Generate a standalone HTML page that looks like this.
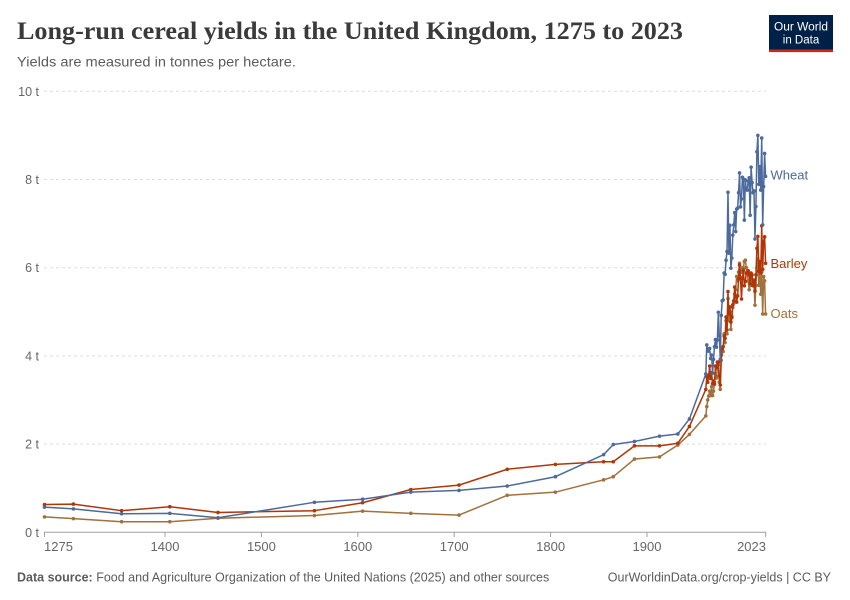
<!DOCTYPE html>
<html>
<head>
<meta charset="utf-8">
<style>
  html, body { margin: 0; padding: 0; background: #fff; }
  svg { display: block; }
  .sans { font-family: "Liberation Sans", "DejaVu Sans", sans-serif; }
  .serif { font-family: "Liberation Serif", "DejaVu Serif", serif; }
</style>
</head>
<body>
<svg id="chart" width="850" height="600" viewBox="0 0 850 600" xmlns="http://www.w3.org/2000/svg">
  <rect x="0" y="0" width="850" height="600" fill="#ffffff"/>

  <!-- Title -->
  <text class="serif" x="17" y="39" font-size="25" font-weight="bold" fill="#3a3a3a" textLength="666" lengthAdjust="spacingAndGlyphs">Long-run cereal yields in the United Kingdom, 1275 to 2023</text>
  <text class="sans" x="17" y="66.5" font-size="14" fill="#5b5b5b" textLength="279" lengthAdjust="spacingAndGlyphs">Yields are measured in tonnes per hectare.</text>

  <!-- Logo -->
  <rect x="769" y="15" width="64" height="34.5" fill="#002147"/>
  <rect x="769" y="49.5" width="64" height="2.6" fill="#ce261e"/>
  <text class="sans" x="801" y="30.5" font-size="11.5" fill="#ffffff" text-anchor="middle" textLength="54" lengthAdjust="spacingAndGlyphs">Our World</text>
  <text class="sans" x="801" y="43.5" font-size="11.5" fill="#ffffff" text-anchor="middle">in Data</text>

  <!-- Gridlines -->
  <g stroke="#dddddd" stroke-width="1" stroke-dasharray="3,3">
    <line x1="44" y1="91.3" x2="766" y2="91.3"/>
    <line x1="44" y1="179.5" x2="766" y2="179.5"/>
    <line x1="44" y1="267.7" x2="766" y2="267.7"/>
    <line x1="44" y1="355.9" x2="766" y2="355.9"/>
    <line x1="44" y1="444.1" x2="766" y2="444.1"/>
  </g>

  <!-- Y labels -->
  <g class="sans" font-size="12.5" fill="#666666" text-anchor="end">
    <text x="39" y="95.8">10 t</text>
    <text x="39" y="184">8 t</text>
    <text x="39" y="272.2">6 t</text>
    <text x="39" y="360.4">4 t</text>
    <text x="39" y="448.6">2 t</text>
    <text x="39" y="536.8">0 t</text>
  </g>

  <!-- X axis -->
  <line x1="44" y1="532.3" x2="766" y2="532.3" stroke="#a0a0a0" stroke-width="1"/>
  <g stroke="#a0a0a0" stroke-width="1">
    <line x1="44.5" y1="532.3" x2="44.5" y2="537"/>
    <line x1="165" y1="532.3" x2="165" y2="537"/>
    <line x1="261.4" y1="532.3" x2="261.4" y2="537"/>
    <line x1="357.8" y1="532.3" x2="357.8" y2="537"/>
    <line x1="454.2" y1="532.3" x2="454.2" y2="537"/>
    <line x1="550.6" y1="532.3" x2="550.6" y2="537"/>
    <line x1="647" y1="532.3" x2="647" y2="537"/>
    <line x1="765.6" y1="532.3" x2="765.6" y2="537"/>
  </g>
  <g class="sans" font-size="13" fill="#666666">
    <text x="44" y="551">1275</text>
    <text x="165" y="551" text-anchor="middle">1400</text>
    <text x="261.4" y="551" text-anchor="middle">1500</text>
    <text x="357.8" y="551" text-anchor="middle">1600</text>
    <text x="454.2" y="551" text-anchor="middle">1700</text>
    <text x="550.6" y="551" text-anchor="middle">1800</text>
    <text x="647" y="551" text-anchor="middle">1900</text>
    <text x="766" y="551" text-anchor="end">2023</text>
  </g>

  <g id="series"></g>

  <!-- Series labels -->
  <g class="sans" font-size="13">
    <text x="770.5" y="179.5" fill="#4c6a9c">Wheat</text>
    <text x="770.5" y="268" fill="#b13507">Barley</text>
    <text x="770.5" y="318" fill="#a2703a">Oats</text>
  </g>

  <!-- Footer -->
  <text class="sans" x="17" y="581.5" font-size="12.5" fill="#5b5b5b"><tspan font-weight="bold">Data source:</tspan> Food and Agriculture Organization of the United Nations (2025) and other sources</text>
  <text class="sans" x="831" y="581.5" font-size="12.5" fill="#5b5b5b" text-anchor="end">OurWorldinData.org/crop-yields | CC BY</text>
</svg>

<script>
(function(){
  var histYears = [1275,1305,1355,1405,1455,1555,1605,1655,1705,1755,1805,1855,1865,1887,1913,1932,1944];
  var wheatH = [0.57,0.53,0.42,0.43,0.33,0.68,0.75,0.91,0.95,1.05,1.26,1.76,1.99,2.06,2.18,2.23,2.57];
  var barleyH = [0.63,0.64,0.49,0.58,0.45,0.49,0.67,0.97,1.07,1.43,1.54,1.60,1.60,1.96,1.96,2.02,2.40];
  var oatsH = [0.35,0.31,0.24,0.24,0.32,0.38,0.48,0.43,0.39,0.84,0.91,1.19,1.26,1.66,1.71,1.98,2.22];

  var wheatM = [3.59,4.25,4.11,4.11,4.17,3.94,4.02,3.61,3.92,4.21,4.37,4.20,4.36,4.99,4.46,3.92,4.92,5.25,5.27,5.88,5.85,6.17,6.37,7.71,6.33,6.96,5.99,6.22,6.74,6.97,7.25,6.82,7.33,7.35,7.70,8.15,7.38,7.56,8.05,8.01,7.08,7.99,7.78,7.76,7.96,8.04,7.19,8.28,7.93,7.70,7.74,6.65,7.39,8.63,9.00,7.89,8.29,7.76,8.94,6.97,7.84,8.59,8.07];
  var barleyM = [3.24,3.53,3.40,3.56,3.77,3.49,3.62,3.37,3.43,3.36,3.77,3.74,3.86,3.86,3.55,3.34,4.02,4.16,4.21,4.45,4.40,4.88,4.59,5.46,4.95,5.11,4.77,4.87,5.16,5.25,5.56,5.34,5.22,5.36,5.74,6.06,5.77,5.29,5.76,5.94,5.59,5.69,5.88,5.89,5.93,5.84,5.64,5.88,5.84,5.59,5.72,5.47,5.84,6.44,6.71,5.92,6.14,5.88,6.95,5.96,6.60,6.70,6.10];
  var oatsM = [2.64,2.85,3.00,3.09,3.20,3.10,3.30,3.10,3.20,3.40,3.60,3.50,3.70,3.80,3.40,3.24,3.90,4.10,4.10,4.50,4.30,4.80,4.50,5.30,4.80,5.00,4.60,4.90,5.10,5.20,5.40,5.50,5.80,5.70,5.90,6.10,5.90,5.90,6.00,6.00,6.14,6.17,6.00,5.90,5.70,5.50,5.60,5.80,5.60,5.60,5.60,5.15,5.60,6.00,6.20,5.60,5.90,5.40,5.90,4.95,5.80,5.70,4.95];

  function X(yr){ return 44.5 + (yr-1275)*0.964; }
  function Y(v){ return 532.3 - v*44.1; }

  function build(hist, modern, color){
    var pts = [];
    for (var i=0;i<histYears.length;i++) pts.push([X(histYears[i]), Y(hist[i])]);
    for (var j=0;j<modern.length;j++) pts.push([X(1961+j), Y(modern[j])]);
    var d = '';
    var circles = '';
    for (var k=0;k<pts.length;k++){
      d += (k===0?'M':'L') + pts[k][0].toFixed(2) + ',' + pts[k][1].toFixed(2);
      circles += '<circle cx="'+pts[k][0].toFixed(2)+'" cy="'+pts[k][1].toFixed(2)+'" r="1.8" fill="'+color+'"/>';
    }
    return '<path d="'+d+'" fill="none" stroke="'+color+'" stroke-width="1.5" stroke-linejoin="round" stroke-linecap="round"/>' + circles;
  }

  var g = document.getElementById('series');
  g.innerHTML = build(oatsH, oatsM, '#a2703a') + build(barleyH, barleyM, '#b13507') + build(wheatH, wheatM, '#4c6a9c');
})();
</script>
</body>
</html>
